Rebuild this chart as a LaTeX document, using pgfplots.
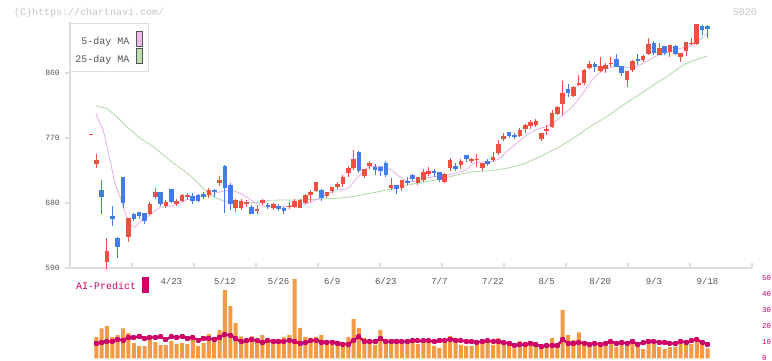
\documentclass[border=0pt]{standalone}
\usepackage{pgfplots}
\usepackage{pgfplotstable}
\pgfplotsset{compat=1.18}
\usepackage{fontspec}
\setmainfont{Liberation Mono}
\definecolor{cred}{HTML}{EE5140}
\definecolor{cblue}{HTML}{437DEB}
\definecolor{corange}{HTML}{F39A44}
\definecolor{cmag}{HTML}{CC0066}
\definecolor{cpink}{HTML}{E8AEE8}
\definecolor{cgreen}{HTML}{B0D8A6}
\definecolor{cpinkL}{HTML}{F0BCF0}
\definecolor{cgreenL}{HTML}{BCE0B2}
\definecolor{caxis}{HTML}{DDDDDD}
\definecolor{ctext}{HTML}{555555}
\definecolor{cwm}{HTML}{C4C4C4}

% candles: x  low  body-bottom  body-top  high
\pgfplotstableread{
x L lo hi H
0 773.5 773.5 774.9 774.9
1 728.9 734.0 739.5 747.8
3 589.0 598.8 613.5 631.5
7 626.4 633.4 659.2 659.2
11 663.4 665.2 678.6 680.9
12 685.1 688.3 695.2 700.3
14 673.5 675.8 681.4 684.2
16 676.3 679.0 682.3 686.0
17 681.0 682.8 691.1 692.0
18 684.2 687.8 690.6 694.3
22 686.5 691.1 698.0 700.8
24 703.5 707.7 711.8 717.4
27 668.0 673.1 684.2 685.5
28 670.3 673.1 682.8 685.5
29 674.5 678.6 681.4 684.2
31 664.8 668.9 672.1 677.2
32 677.2 680.5 684.2 685.5
34 670.3 673.5 678.6 679.5
37 672.1 674.5 675.8 681.4
38 673.5 674.9 683.2 685.5
39 673.5 673.5 684.2 685.5
40 678.6 680.0 691.1 692.4
41 681.8 691.1 695.7 698.0
42 695.7 697.1 709.1 709.1
44 687.0 689.7 695.2 695.2
45 694.0 696.6 702.6 702.6
46 699.4 702.1 706.3 709.1
47 702.1 706.3 716.0 719.2
48 716.0 721.5 728.9 731.7
49 725.7 728.9 740.9 753.4
51 715.0 717.4 727.1 727.1
52 727.1 731.7 735.8 738.1
56 698.0 700.8 704.9 714.6
58 697.1 700.8 711.8 711.8
61 704.9 707.7 716.0 716.0
62 709.0 711.8 722.9 727.0
63 717.4 720.6 724.3 729.8
66 707.7 709.1 720.1 721.5
67 724.8 729.0 739.6 742.8
69 727.1 732.6 738.2 740.9
71 735.9 738.6 740.9 742.8
72 730.3 739.6 740.9 747.9
73 724.8 729.0 735.9 735.9
75 737.3 739.6 743.7 751.1
76 746.5 749.7 761.7 767.3
77 766.3 768.7 773.3 776.9
80 771.9 772.8 781.6 784.3
81 777.4 783.0 788.5 789.4
82 783.0 786.6 792.2 795.0
83 785.7 788.0 793.6 796.8
84 766.3 769.1 777.4 777.4
85 774.2 780.2 783.0 788.5
86 784.3 785.7 804.6 808.8
87 802.3 803.7 812.9 814.3
88 802.3 817.6 832.3 849.0
90 826.8 828.2 840.6 842.0
91 842.5 843.9 846.6 857.3
92 843.9 846.6 864.2 865.6
93 865.6 866.9 872.5 876.6
95 861.4 862.8 869.7 882.2
96 860.0 865.6 871.1 873.9
97 868.8 872.5 873.9 882.2
100 840.6 850.3 862.8 862.8
101 861.4 864.2 876.6 878.0
103 875.7 878.0 883.6 885.0
104 885.0 886.3 900.2 908.5
106 885.0 885.0 894.6 901.6
108 882.2 889.1 898.8 898.8
110 875.3 882.2 887.7 887.7
111 883.6 890.5 903.0 903.0
112 899.2 900.6 902.0 908.5
113 899.3 900.2 927.9 927.9
}\redtab

\pgfplotstableread{
x L lo hi H
2 664.8 688.8 698.0 711.8
4 648.1 658.3 662.0 675.8
5 604.3 619.5 632.0 633.4
6 672.6 679.5 716.0 716.0
8 655.1 658.3 664.3 665.7
9 658.3 662.4 667.1 668.0
10 650.5 655.5 665.7 665.7
13 676.3 679.0 695.2 695.2
15 679.5 681.4 699.4 699.4
19 679.0 682.8 689.7 694.3
20 680.9 683.2 691.1 692.5
21 685.1 688.8 692.4 695.7
23 687.8 695.2 698.0 699.4
25 666.6 701.2 731.2 732.6
26 670.3 678.6 704.9 707.7
30 664.8 664.8 674.5 677.2
33 671.2 674.9 677.2 679.5
35 668.9 672.1 675.8 678.6
36 664.8 669.4 673.1 674.5
43 683.2 687.4 698.0 699.4
50 722.0 724.8 750.6 752.0
53 719.2 726.1 729.8 734.0
54 717.8 724.8 729.8 731.2
55 716.4 719.2 735.4 738.1
57 692.4 699.4 704.9 704.9
59 705.4 708.1 710.0 716.0
60 710.4 713.2 718.8 720.1
64 716.0 721.5 724.3 727.0
65 709.1 711.8 722.9 722.9
68 724.8 727.1 731.7 735.9
70 736.8 741.4 746.5 746.5
74 731.7 734.0 738.6 740.9
78 770.0 772.8 778.3 778.3
79 769.2 771.9 774.6 776.4
89 826.8 832.3 837.9 844.8
94 861.4 868.3 872.5 875.3
98 868.3 868.3 879.4 886.3
99 855.9 860.0 869.7 869.7
102 871.6 877.1 879.4 886.3
105 885.0 887.7 901.6 904.3
107 885.0 887.7 897.4 897.4
109 885.0 886.3 897.4 898.8
114 913.1 920.0 925.6 927.0
115 909.0 921.4 925.6 927.0
}\bluetab

% volume and AI-Predict
\pgfplotstableread{
x v a
1 13.3 9.4
2 18.9 10.0
3 20.2 10.4
4 13.3 10.8
5 14.6 11.9
6 18.9 11.5
7 15.8 13.1
8 9.6 13.1
9 7.7 13.8
10 7.7 12.5
11 11.5 13.1
12 10.2 13.1
13 8.3 13.5
14 8.3 11.9
15 10.8 13.5
16 9.0 13.1
17 9.6 13.8
18 9.0 12.5
19 11.5 13.1
20 7.7 11.5
21 9.6 12.5
22 15.2 12.5
23 12.7 11.9
24 17.7 13.1
25 42.7 15.0
26 32.7 14.6
27 22.1 12.5
28 13.9 10.4
29 10.8 11.0
30 13.9 11.9
31 12.7 11.0
32 14.6 9.8
33 11.5 11.3
34 11.5 10.6
35 11.7 10.6
36 13.5 10.6
37 14.8 11.5
38 49.8 10.6
39 19.2 9.4
40 13.5 9.8
41 12.9 11.0
42 13.5 11.5
43 14.8 10.2
44 11.7 10.2
45 10.4 10.2
46 11.0 9.4
47 10.4 9.0
48 13.5 8.8
49 24.8 11.5
50 19.2 13.5
51 12.9 10.6
52 10.4 10.6
53 8.5 10.6
54 17.9 12.3
55 12.3 10.6
56 11.7 10.6
57 10.4 10.6
58 10.4 10.6
59 10.4 10.6
60 10.4 11.0
61 9.2 11.0
62 11.0 11.0
63 10.4 11.0
64 7.9 10.6
65 6.7 11.0
66 11.0 11.5
67 14.2 12.1
68 11.7 11.5
69 8.5 11.5
70 7.9 10.6
71 7.9 10.4
72 9.2 10.2
73 10.4 10.6
74 10.4 11.0
75 8.5 10.6
76 12.7 10.6
77 10.8 10.0
78 9.4 9.4
79 6.4 8.1
80 10.8 8.7
81 9.4 8.7
82 10.2 9.6
83 10.2 8.7
84 7.7 7.5
85 8.3 8.1
86 12.7 8.1
87 7.7 8.1
88 30.2 11.9
89 14.6 9.4
90 11.5 9.6
91 16.4 10.0
92 10.8 9.6
93 9.0 8.7
94 9.0 9.4
95 9.6 8.7
96 8.3 9.4
97 9.6 10.6
98 7.1 9.4
99 9.6 10.0
100 9.0 9.6
101 9.0 10.6
102 8.3 9.0
103 5.8 9.8
104 9.6 10.8
105 9.6 10.8
106 7.1 10.0
107 5.8 10.0
108 7.1 9.6
109 7.1 9.2
110 9.6 10.8
111 9.6 10.0
112 9.0 11.0
113 10.2 12.0
114 8.3 10.0
115 6.4 9.0
}\voltab

\begin{document}
\begin{tikzpicture}
\useasboundingbox (0pt,0pt) rectangle (772pt,361pt);

% ---------------- price panel ----------------
\begin{axis}[
  at={(70pt,93pt)}, anchor=south west,
  scale only axis, width=682pt, height=246pt,
  xmin=-3.9, xmax=123.3, ymin=590, ymax=930.6,
  clip=false,
  axis x line*=bottom, axis y line*=left,
  axis line style={-, draw=caxis, line width=1.5pt},
  xtick={-3.9,7.664,19.228,30.792,42.356,53.92,65.484,77.048,88.612,100.176,111.74,123.3},
  xticklabels={},
  xtick align=inside, ytick align=outside,
  major tick length=5pt,
  tick style={draw=caxis, line width=1.3pt},
  extra x ticks={15,25,35,45,55,65,75,85,95,105,115},
  extra x tick labels={4/23,5/12,5/26,6/9,6/23,7/7,7/22,8/5,8/20,9/3,9/18},
  extra x tick style={tick style={draw=none},
     xticklabel style={anchor=base, yshift=-17pt, font=\fontsize{9}{10}\selectfont, text=ctext}},
  ytick={590,680,770,860},
  yticklabel style={font=\fontsize{8}{9}\selectfont, text=ctext, anchor=east, inner sep=0pt, xshift=-5pt},
  /pgf/number format/assume math mode=true,
  /pgf/number format/1000 sep={},
]
% 25-day MA
\addplot[cgreen, line width=0.8pt, forget plot] coordinates {
(0.95,814.3)(2.95,811.1)(4.81,799.5)(6.68,785.6)(9.16,769.6)(11.64,758.0)(13.5,746.5)
(15.37,735.0)(17.23,725.7)(19.1,714.2)(20.96,700.4)(22.83,688.7)(24.69,682.8)(26.56,681.4)
(29.06,680.4)(31.54,680.4)(33.4,683.7)(35.88,684.2)(38.38,684.2)(42.1,685.1)(45.84,686.5)
(47.71,687.9)(49.57,689.7)(51.44,692.5)(53.3,695.2)(55.17,698.0)(57.03,701.2)(58.9,704.5)
(60.76,707.3)(63.24,710.5)(65.1,712.8)(68.22,718.8)(71.32,723.3)(74.43,724.7)(77.55,728.0)
(80.64,734.0)(83.76,744.1)(86.87,755.7)(89.97,769.6)(93.08,785.6)(96.19,799.5)(99.29,815.7)
(102.4,830.9)(104.27,840.2)(107.38,854.9)(110.48,871.1)(112.98,879.0)(114.96,883.5)
};
% 5-day MA
\addplot[cpink, line width=0.8pt, forget plot] coordinates {
(0.95,804.2)(1.38,794.9)(2.31,781.1)(3.56,739.5)(4.49,707.3)(5.43,688.7)(6.68,661.0)
(7.61,648.2)(8.22,646.4)(9.47,656.5)(11.02,663.4)(12.88,674.0)(14.75,674.9)(16.62,680.4)
(19.10,687.9)(21.6,689.7)(23.46,694.3)(25.33,697.0)(26.56,697.0)(28.12,692.5)(29.4,686.5)
(30.6,680.5)(32.15,675.8)(34.0,674.9)(35.9,674.9)(38.4,677.2)(39.6,677.2)(40.9,680.4)
(42.1,685.1)(43.0,687.9)(44.6,694.3)(45.8,698.0)(47.4,699.0)(48.3,702.6)(49.3,711.8)
(50.2,718.8)(51.1,726.6)(52.1,730.3)(53.3,730.8)(54.5,730.3)(55.8,726.6)(56.7,722.0)
(57.6,715.6)(58.9,710.9)(60.1,709.5)(61.4,710.9)(62.6,714.2)(63.9,716.4)(65.1,717.5)
(67.6,720.2)(70.1,725.7)(71.3,735.0)(73.2,737.2)(75.0,737.2)(76.3,741.9)(77.5,751.0)
(79.4,762.7)(81.3,774.2)(83.1,782.0)(85.0,785.6)(86.6,792.6)(88.1,802.8)(89.7,812.5)
(91.2,826.3)(92.8,843.4)(94.0,854.9)(95.6,864.2)(97.4,868.7)(98.7,869.7)(100.5,867.3)
(101.8,868.7)(103.0,873.4)(104.3,879.0)(105.5,883.5)(106.8,886.3)(108.0,889.5)(109.2,892.8)
(110.5,895.0)(111.7,896.4)(113.0,901.9)(113.9,908.0)(115.0,915.0)
};
% wicks
\addplot[draw=none, mark=none, forget plot,
  error bars/.cd, y dir=plus, y explicit, error mark=none,
  error bar style={draw=cred, line width=1pt}]
  table[x=x, y=L, y error expr=\thisrow{H}-\thisrow{L}] {\redtab};
\addplot[draw=none, mark=none, forget plot,
  error bars/.cd, y dir=plus, y explicit, error mark=none,
  error bar style={draw=cblue, line width=1pt}]
  table[x=x, y=L, y error expr=\thisrow{H}-\thisrow{L}] {\bluetab};
% bodies
\addplot[draw=none, mark=none, forget plot,
  error bars/.cd, y dir=plus, y explicit, error mark=none,
  error bar style={draw=cred, line width=4.6pt}]
  table[x=x, y=lo, y error expr=\thisrow{hi}-\thisrow{lo}] {\redtab};
\addplot[draw=none, mark=none, forget plot,
  error bars/.cd, y dir=plus, y explicit, error mark=none,
  error bar style={draw=cblue, line width=4.6pt}]
  table[x=x, y=lo, y error expr=\thisrow{hi}-\thisrow{lo}] {\bluetab};
\end{axis}

% ---------------- volume / AI panel ----------------
\begin{axis}[
  at={(70pt,2.5pt)}, anchor=south west,
  scale only axis, width=682pt, height=80pt,
  xmin=-3.9, xmax=123.3, ymin=0, ymax=50,
  clip=false,
  axis x line=none, axis y line*=right,
  y axis line style={draw=none},
  ytick={0,10,20,30,40,50},
  ytick style={draw=none},
  yticklabel style={font=\fontsize{7.5}{8}\selectfont, text=cmag, anchor=west, inner sep=0pt, xshift=10pt},
  /pgf/number format/assume math mode=true,
]
\addplot[ybar, bar width=4pt, fill=corange, draw=none] table[x=x, y=v] {\voltab};
\addplot[cmag, line width=2.4pt, line join=round, mark=square*, mark size=1.3pt, mark options={solid, fill=cmag, draw=none}] table[x=x, y=a] {\voltab};
\end{axis}

% ---------------- texts and legends ----------------
\node[anchor=base west, inner sep=0pt, text=cwm, font=\fontsize{10}{12}\selectfont] at (14pt,345pt) {(C)https://chartnavi.com/};
\node[anchor=base east, inner sep=0pt, text=cwm, font=\fontsize{10}{12}\selectfont] at (757pt,345.3pt) {5020};

\draw[draw=caxis, fill=white, line width=1pt] (70.3pt,337pt) rectangle (148.7pt,289.3pt);
\node[anchor=base east, inner sep=0pt, text=ctext, font=\fontsize{10}{12}\selectfont] at (129.5pt,316pt) {5-day MA};
\node[anchor=base east, inner sep=0pt, text=ctext, font=\fontsize{10}{12}\selectfont] at (129.5pt,298.7pt) {25-day MA};
\draw[draw=ctext, fill=cpinkL, line width=0.8pt] (136.6pt,330pt) rectangle (142.6pt,314.3pt);
\draw[draw=ctext, fill=cgreenL, line width=0.8pt] (136.6pt,312.7pt) rectangle (142.6pt,297.7pt);

\node[anchor=base west, inner sep=0pt, text=cmag, font=\fontsize{10}{12}\selectfont] at (76pt,71pt) {AI-Predict};
\fill[cmag] (142.3pt,83.7pt) rectangle (148.7pt,68.3pt);
\end{tikzpicture}
\end{document}
